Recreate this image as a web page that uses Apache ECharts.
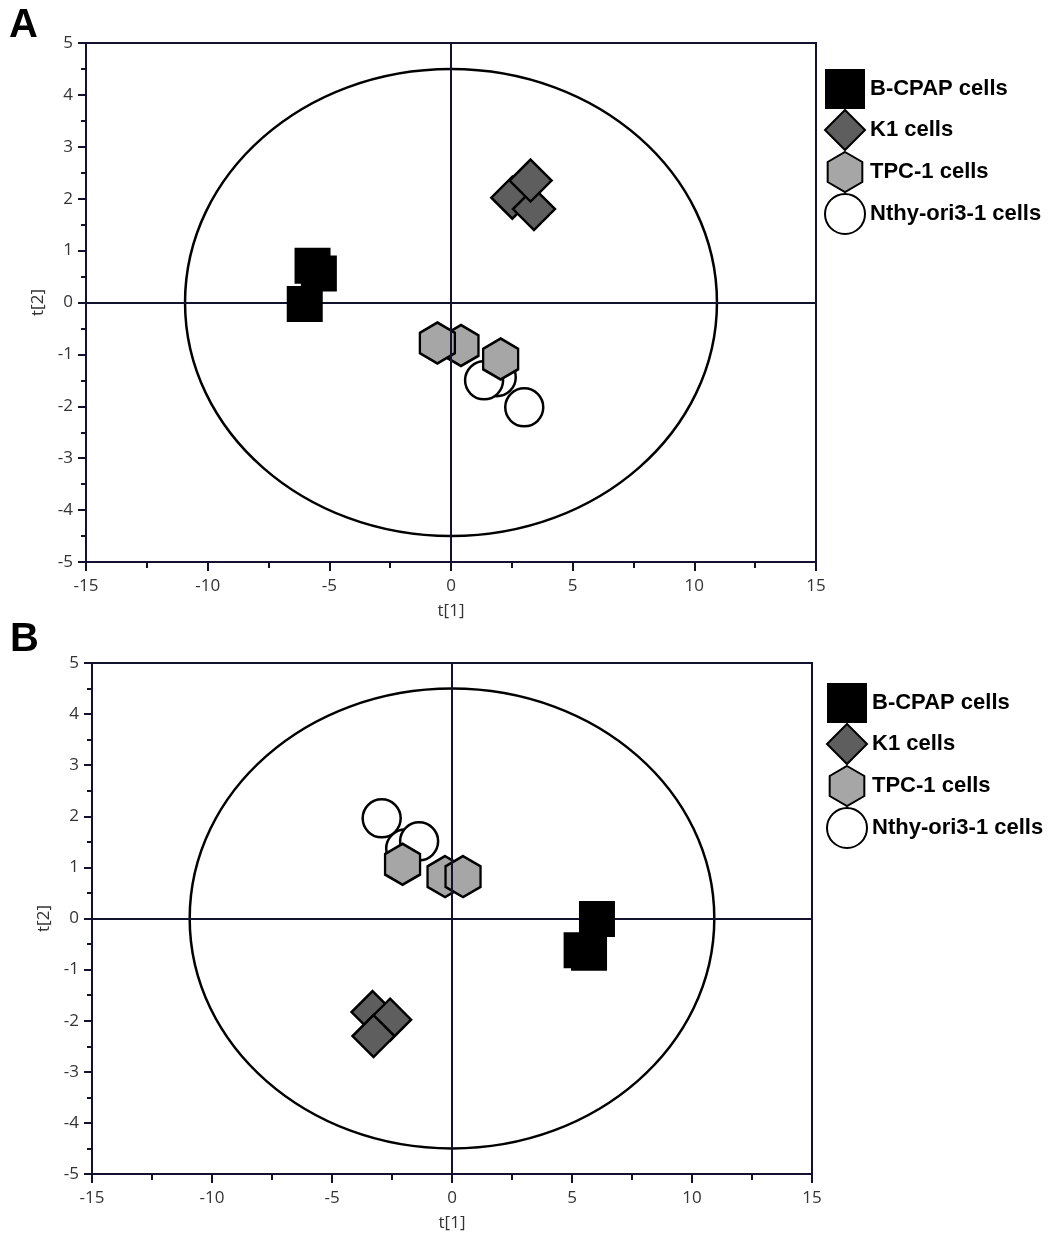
<!DOCTYPE html>
<html>
<head>
<meta charset="utf-8">
<script src="https://cdn.jsdelivr.net/npm/echarts@6/dist/echarts.min.js"></script>
<style>
html,body{margin:0;padding:0;background:#fff;}
#chart{width:1059px;height:1236px;}
</style>
</head>
<body>
<div id="chart"></div>
<script>
// ---- data ----
const groupNames = ['B-CPAP cells', 'K1 cells', 'TPC-1 cells', 'Nthy-ori3-1 cells'];
const xTicksMinMax = [-15, 15];
const yTicksMinMax = [-5, 5];
const ellipseRadii = [10.93, 4.5]; // Hotelling ellipse half-axes (t[1], t[2])

// Panel A
const A_bcpap = [[-5.69, 0.71], [-5.43, 0.56], [-6.01, -0.03]];
const A_k1    = [[2.52, 2.02], [3.41, 1.80], [3.27, 2.35]];
const A_tpc1  = [[0.41, -0.83], [-0.56, -0.78], [2.04, -1.09]];
const A_nthy  = [[1.88, -1.44], [1.36, -1.50], [3.01, -2.02]];

// Panel B
const B_bcpap = [[5.71, -0.67], [5.40, -0.62], [6.04, -0.01]];
const B_k1    = [[-3.31, -1.83], [-2.58, -1.98], [-3.27, -2.30]];
const B_tpc1  = [[-2.06, 1.06], [-0.29, 0.82], [0.46, 0.82]];
const B_nthy  = [[-1.95, 1.37], [-2.93, 1.96], [-1.37, 1.51]];

// ---- styles ----
const AX = '#12122e';
const hexPath = 'path://M0,-1 L0.866,-0.5 L0.866,0.5 L0,1 L-0.866,0.5 L-0.866,-0.5 Z';
const labelFont = {fontFamily: 'Open Sans', fontSize: 17, color: '#333'};

function xAxis(gi) {
  return {
    type: 'value', gridIndex: gi, min: xTicksMinMax[0], max: xTicksMinMax[1], interval: 5,
    name: 't[1]', nameLocation: 'middle', nameGap: 41,
    nameTextStyle: {fontFamily: 'Open Sans', fontSize: 17, color: '#333'},
    axisLine: {show: true, onZero: false, lineStyle: {color: AX, width: 2}},
    axisTick: {show: true, inside: false, length: 9, lineStyle: {color: AX, width: 2}},
    minorTick: {show: true, splitNumber: 2, length: 6, lineStyle: {color: AX, width: 2}},
    axisLabel: Object.assign({margin: 16}, labelFont),
    splitLine: {show: false}
  };
}
function yAxis(gi) {
  return {
    type: 'value', gridIndex: gi, min: yTicksMinMax[0], max: yTicksMinMax[1], interval: 1,
    name: 't[2]', nameLocation: 'middle', nameGap: 33, nameRotate: 90,
    nameTextStyle: {fontFamily: 'Open Sans', fontSize: 17, color: '#333'},
    axisLine: {show: true, onZero: false, lineStyle: {color: AX, width: 2}},
    axisTick: {show: true, inside: false, length: 8, lineStyle: {color: AX, width: 2}},
    minorTick: {show: true, splitNumber: 2, length: 5, lineStyle: {color: AX, width: 2}},
    axisLabel: Object.assign({margin: 13}, labelFont),
    splitLine: {show: false}
  };
}

function ellipseSeries(gi) {
  return {
    type: 'custom', xAxisIndex: gi, yAxisIndex: gi, silent: true, z: 1,
    data: [[0, 0]],
    renderItem: function (params, api) {
      const c = api.coord([api.value(0), api.value(1)]);
      const s = api.size(ellipseRadii);
      return {
        type: 'ellipse',
        shape: {cx: c[0], cy: c[1], rx: s[0], ry: s[1]},
        style: {fill: 'none', stroke: '#000', lineWidth: 2.5}
      };
    },
    markLine: {
      silent: true, symbol: 'none', animation: false,
      label: {show: false},
      lineStyle: {color: AX, width: 2, type: 'solid'},
      data: [{xAxis: 0}, {yAxis: 0}]
    }
  };
}

function groupSeries(gi, sets) {
  return [
    {name: groupNames[3], type: 'scatter', xAxisIndex: gi, yAxisIndex: gi, data: sets[3],
     symbol: 'circle', symbolSize: 38, z: 3,
     itemStyle: {color: '#ffffff', borderColor: '#000', borderWidth: 2.5, opacity: 1}},
    {name: groupNames[2], type: 'scatter', xAxisIndex: gi, yAxisIndex: gi, data: sets[2],
     symbol: hexPath, symbolSize: [35, 41], z: 4,
     itemStyle: {color: '#a6a6a6', borderColor: '#000', borderWidth: 2.5, opacity: 1}},
    {name: groupNames[1], type: 'scatter', xAxisIndex: gi, yAxisIndex: gi, data: sets[1],
     symbol: 'diamond', symbolSize: 42, z: 5,
     itemStyle: {color: '#5e5e5e', borderColor: '#000', borderWidth: 2.5, opacity: 1}},
    {name: groupNames[0], type: 'scatter', xAxisIndex: gi, yAxisIndex: gi, data: sets[0],
     symbol: 'rect', symbolSize: 36, z: 6,
     itemStyle: {color: '#000000', borderColor: '#000', borderWidth: 0, opacity: 1}}
  ];
}

function legend(top, left) {
  return {
    orient: 'vertical', top: top, left: left, padding: 0,
    itemWidth: 40, itemHeight: 40, itemGap: 0,
    selectedMode: false,
    textStyle: {fontFamily: 'Liberation Sans', fontWeight: 'bold', fontSize: 22, color: '#000'},
    data: groupNames
  };
}

const chart = echarts.init(document.getElementById('chart'), null, {renderer: 'canvas'});
chart.setOption({
  animation: false,
  backgroundColor: '#fff',
  grid: [
    {left: 86, width: 730, top: 43, height: 519, show: true, borderColor: AX, borderWidth: 2, containLabel: false},
    {left: 92, width: 720, top: 663, height: 511, show: true, borderColor: AX, borderWidth: 2, containLabel: false}
  ],
  xAxis: [xAxis(0), xAxis(1)],
  yAxis: [yAxis(0), yAxis(1)],
  legend: [legend(69, 824), legend(683, 826)],
  graphic: [
    {type: 'text', left: 9, top: 6, style: {text: 'A', fontFamily: 'Liberation Sans', fontWeight: 'bold', fontSize: 40, fill: '#000'}},
    {type: 'text', left: 10, top: 620, style: {text: 'B', fontFamily: 'Liberation Sans', fontWeight: 'bold', fontSize: 40, fill: '#000'}}
  ],
  series: [
    ellipseSeries(0),
    ...groupSeries(0, [A_bcpap, A_k1, A_tpc1, A_nthy]),
    ellipseSeries(1),
    ...groupSeries(1, [B_bcpap, B_k1, B_tpc1, B_nthy])
  ]
});
</script>
</body>
</html>
